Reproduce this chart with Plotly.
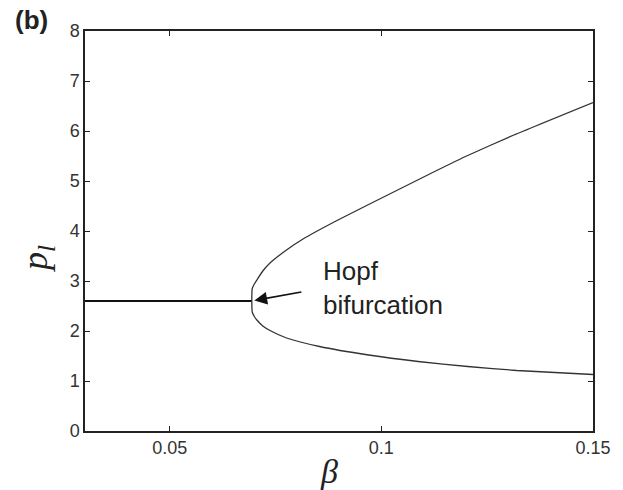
import plotly.graph_objects as go

# Equilibrium branch (before Hopf)
eq_beta = [0.03, 0.0694]
eq_p = [2.60, 2.60]

# Upper branch of limit cycle (max p_l)
up_beta = [0.0694, 0.0695, 0.0700, 0.0706, 0.0720, 0.0737, 0.0776, 0.0815, 0.0893,
           0.0970, 0.1048, 0.1126, 0.1204, 0.1313, 0.1500]
up_p = [2.60, 2.85, 2.94, 3.02, 3.20, 3.36, 3.62, 3.84, 4.20, 4.53, 4.86, 5.19,
        5.51, 5.92, 6.57]

# Lower branch of limit cycle (min p_l)
lo_beta = [0.0694, 0.0695, 0.0700, 0.0706, 0.0720, 0.0737, 0.0776, 0.0854, 0.0970,
           0.1087, 0.1204, 0.1320, 0.1500]
lo_p = [2.60, 2.38, 2.29, 2.22, 2.10, 2.01, 1.86, 1.69, 1.52, 1.39, 1.29, 1.21, 1.13]

x_ticks = [0.05, 0.1, 0.15]
x_ticklabels = ["0.05", "0.1", "0.15"]
y_ticks = [0, 1, 2, 3, 4, 5, 6, 7, 8]

fig = go.Figure()
fig.add_trace(go.Scatter(x=eq_beta, y=eq_p, mode="lines",
                         line=dict(color="#111111", width=1.8), showlegend=False))
fig.add_trace(go.Scatter(x=up_beta, y=up_p, mode="lines",
                         line=dict(color="#333333", width=1.3, shape="spline", smoothing=0.5),
                         showlegend=False))
fig.add_trace(go.Scatter(x=lo_beta, y=lo_p, mode="lines",
                         line=dict(color="#333333", width=1.3, shape="spline", smoothing=0.5),
                         showlegend=False))

axis_common = dict(showline=True, linecolor="#222222", linewidth=1.5, mirror="ticks",
                   ticks="inside", ticklen=5, tickwidth=1.2, tickcolor="#222222",
                   showgrid=False, zeroline=False,
                   tickfont=dict(family="Liberation Sans, Arial", size=18, color="#333333"))

fig.update_xaxes(range=[0.03, 0.15], tickvals=x_ticks, ticktext=x_ticklabels, **axis_common)
fig.update_yaxes(range=[0, 8], tickvals=y_ticks, **axis_common)

fig.add_annotation(x=0.0700, y=2.61, ax=50, ay=-9, xref="x", yref="y",
                   showarrow=True, arrowhead=2, arrowsize=1.6, arrowwidth=1.6,
                   arrowcolor="#111111", text=" ")
fig.add_annotation(x=0.0858, y=2.86, xref="x", yref="y", showarrow=False,
                   xanchor="left", yanchor="middle", align="left",
                   text="Hopf<br>bifurcation",
                   font=dict(family="Liberation Sans, Arial", size=26, color="#222222"))

fig.add_annotation(x=0.48, y=0, xref="paper", yref="paper", yshift=-20,
                   xanchor="center", yanchor="top", showarrow=False,
                   text="<i>β</i>",
                   font=dict(family="Liberation Serif, Times New Roman", size=34, color="#222222"))
fig.add_annotation(x=0, y=0.43, xref="paper", yref="paper", xshift=-48,
                   xanchor="center", yanchor="middle", showarrow=False, textangle=-90,
                   text="<i>p<sub>l</sub></i>",
                   font=dict(family="Liberation Serif, Times New Roman", size=36, color="#222222"))
fig.add_annotation(x=0, y=1, xref="paper", yref="paper", xshift=-54, yshift=11,
                   xanchor="center", yanchor="middle", showarrow=False,
                   text="<b>(b)</b>",
                   font=dict(family="Liberation Sans, Arial", size=26, color="#222222"))

fig.update_layout(width=623, height=490, margin=dict(l=85, r=24, t=31, b=59),
                  plot_bgcolor="white", paper_bgcolor="white")

fig.write_html("out.html")
